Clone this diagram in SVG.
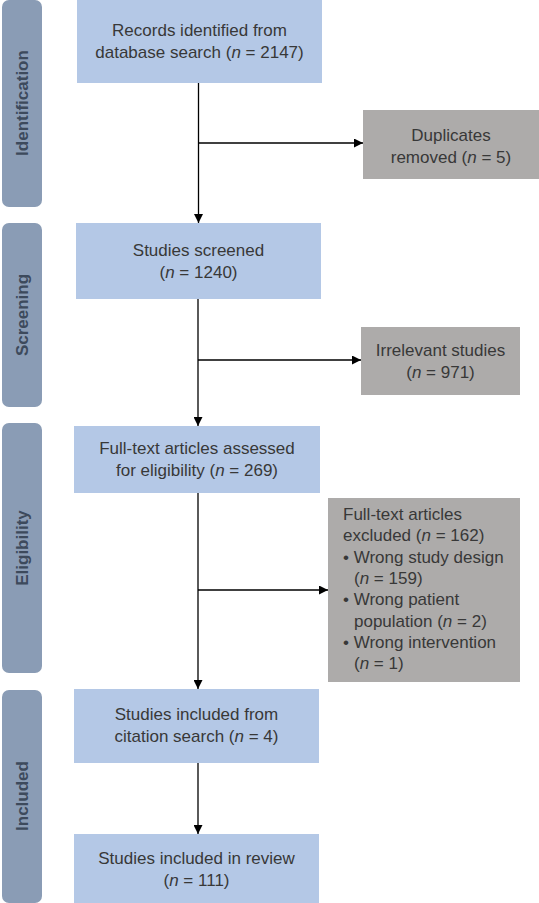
<svg xmlns="http://www.w3.org/2000/svg" width="539" height="903" viewBox="0 0 539 903">
<defs>
<marker id="ah" viewBox="0 0 10 10" refX="10" refY="5" markerWidth="9" markerHeight="9" markerUnits="userSpaceOnUse" orient="auto">
<path d="M0,0 L10,5 L0,10 z" fill="#000"/>
</marker>
<style>
.side{fill:#8a9cb5}
.sidet{font-family:"Liberation Sans",Arial,sans-serif;font-weight:bold;font-size:17px;fill:#3d4a5c;text-anchor:middle}
.blue{fill:#b4c8e6}
.gray{fill:#adabaa}
.t{font-family:"Liberation Sans",Arial,sans-serif;font-size:17px;fill:#383838}
.c{text-anchor:middle}
.ln{stroke:#000;stroke-width:1.3;fill:none}
</style>
</defs>
<rect width="539" height="903" fill="#fff"/>
<g id="stage-identification">
<rect class="side" x="2" y="0" width="40" height="207" rx="7"/>
<text class="sidet" transform="translate(28,103) rotate(-90)">Identification</text>
</g>
<g id="stage-screening">
<rect class="side" x="2" y="223" width="40" height="184" rx="7"/>
<text class="sidet" transform="translate(28,315) rotate(-90)">Screening</text>
</g>
<g id="stage-eligibility">
<rect class="side" x="2" y="423" width="40" height="250" rx="7"/>
<text class="sidet" transform="translate(28,548) rotate(-90)">Eligibility</text>
</g>
<g id="stage-included">
<rect class="side" x="2" y="690" width="40" height="213" rx="7"/>
<text class="sidet" transform="translate(28,796) rotate(-90)">Included</text>
</g>
<g id="records">
<rect class="blue" x="77" y="0" width="245" height="83"/>
<text class="t c" x="199.5" y="36">Records identified from</text>
<text class="t c" x="199.5" y="58">database search (<tspan font-style="italic">n</tspan> = 2147)</text>
</g>
<g id="duplicates">
<rect class="gray" x="363" y="110" width="176" height="69"/>
<text class="t c" x="451" y="141">Duplicates</text>
<text class="t c" x="451" y="163">removed (<tspan font-style="italic">n</tspan> = 5)</text>
</g>
<g id="screened">
<rect class="blue" x="76" y="223" width="245" height="76"/>
<text class="t c" x="198.5" y="256">Studies screened</text>
<text class="t c" x="198.5" y="278">(<tspan font-style="italic">n</tspan> = 1240)</text>
</g>
<g id="irrelevant">
<rect class="gray" x="361" y="327" width="159" height="68"/>
<text class="t c" x="440.5" y="356">Irrelevant studies</text>
<text class="t c" x="440.5" y="378">(<tspan font-style="italic">n</tspan> = 971)</text>
</g>
<g id="fulltext">
<rect class="blue" x="74" y="426" width="246" height="67"/>
<text class="t c" x="197" y="454">Full-text articles assessed</text>
<text class="t c" x="197" y="476">for eligibility (<tspan font-style="italic">n</tspan> = 269)</text>
</g>
<g id="excluded">
<rect class="gray" x="328" y="498" width="192" height="184"/>
<text class="t" x="343" y="520">Full-text articles</text>
<text class="t" x="343" y="541">excluded (<tspan font-style="italic">n</tspan> = 162)</text>
<text class="t" x="343" y="563">• Wrong study design</text>
<text class="t" x="354" y="584">(<tspan font-style="italic">n</tspan> = 159)</text>
<text class="t" x="343" y="605">• Wrong patient</text>
<text class="t" x="354" y="627">population (<tspan font-style="italic">n</tspan> = 2)</text>
<text class="t" x="343" y="648">• Wrong intervention</text>
<text class="t" x="354" y="669">(<tspan font-style="italic">n</tspan> = 1)</text>
</g>
<g id="citation">
<rect class="blue" x="74" y="689" width="245" height="74"/>
<text class="t c" x="196.5" y="720">Studies included from</text>
<text class="t c" x="196.5" y="742">citation search (<tspan font-style="italic">n</tspan> = 4)</text>
</g>
<g id="review">
<rect class="blue" x="74" y="834" width="245" height="69"/>
<text class="t c" x="196.5" y="864">Studies included in review</text>
<text class="t c" x="196.5" y="886">(<tspan font-style="italic">n</tspan> = 111)</text>
</g>
<g id="connectors">
<line class="ln" x1="198.5" y1="83" x2="198.5" y2="223" marker-end="url(#ah)"/>
<line class="ln" x1="198.5" y1="143" x2="363" y2="143" marker-end="url(#ah)"/>
<line class="ln" x1="198" y1="299" x2="198" y2="426" marker-end="url(#ah)"/>
<line class="ln" x1="198" y1="360" x2="361" y2="360" marker-end="url(#ah)"/>
<line class="ln" x1="198" y1="493" x2="198" y2="689" marker-end="url(#ah)"/>
<line class="ln" x1="198" y1="590" x2="328" y2="590" marker-end="url(#ah)"/>
<line class="ln" x1="198" y1="763" x2="198" y2="834" marker-end="url(#ah)"/>
</g>
</svg>
